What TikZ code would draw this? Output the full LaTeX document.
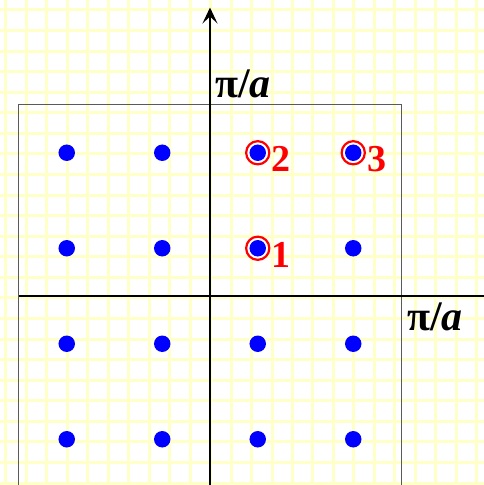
\documentclass[tikz,border=0pt]{standalone}
\usepackage{fontspec}
\setmainfont{Liberation Serif}
\usetikzlibrary{positioning,calc,arrows.meta}
\definecolor{Paper}{HTML}{FFFFC8}
\definecolor{Frame}{HTML}{5A5A5A}
\definecolor{Site}{HTML}{0000FF}
\definecolor{Mark}{HTML}{FF0000}

\tikzset{
  site/.style={circle,fill=Site,inner sep=0pt,minimum size=16.5pt},
  ring/.style={circle,draw=Mark,line width=2.2pt,fill=white,inner sep=0pt,minimum size=23.2pt},
  num/.style={anchor=base west,inner sep=0pt,text=Mark,font=\fontsize{38}{38}\selectfont\bfseries},
  klabel/.style={anchor=base west,inner sep=0pt,font=\fontsize{42}{42}\selectfont\bfseries},
  axis/.style={line width=2pt,black},
}

\begin{document}
\begin{tikzpicture}[x=1pt,y=1pt]
    \path[use as bounding box] (-210,-189) rectangle (274,296);
    \clip (-210,-189) rectangle (274,296);
    \fill[white] (-210,-189) rectangle (274,296);
    % squared paper
    \draw[Paper,line width=3pt,xstep=20.47pt,ystep=20.57pt,shift={(0.65,-1.9)}] (-230,-210) grid (290,310);
    % first zone
    \draw[Frame,line width=1pt] (-191,-191) rectangle (191,191);
    \draw[axis] (-191,0) -- (274,0);
    \draw[axis,-{Stealth[length=16pt,width=15pt,inset=7pt]}] (0,-189) -- (0,288.5);
    \node[klabel] (kytop) at (5,198) {π/\textit{a}};
    \node[klabel] (kxright) at (197,-34) {π/\textit{a}};
    % chosen k points
    \foreach \n/\x/\y in {1/47.75/47.75,2/47.75/143.25,3/143.25/143.25}{
      \node[ring] (r\n) at (\x,\y) {};
    }
    \foreach \i/\x in {1/-143.25,2/-47.75,3/47.75,4/143.25}{
      \foreach \j/\y in {1/-143.25,2/-47.75,3/47.75,4/143.25}{
        \node[site] (s\i\j) at (\x,\y) {};
      }
    }
    \foreach \n in {1,2,3}{
      \node[num] (n\n) at ($(r\n)+(14,-19)$) {\n};
    }
  \end{tikzpicture}
\end{document}
